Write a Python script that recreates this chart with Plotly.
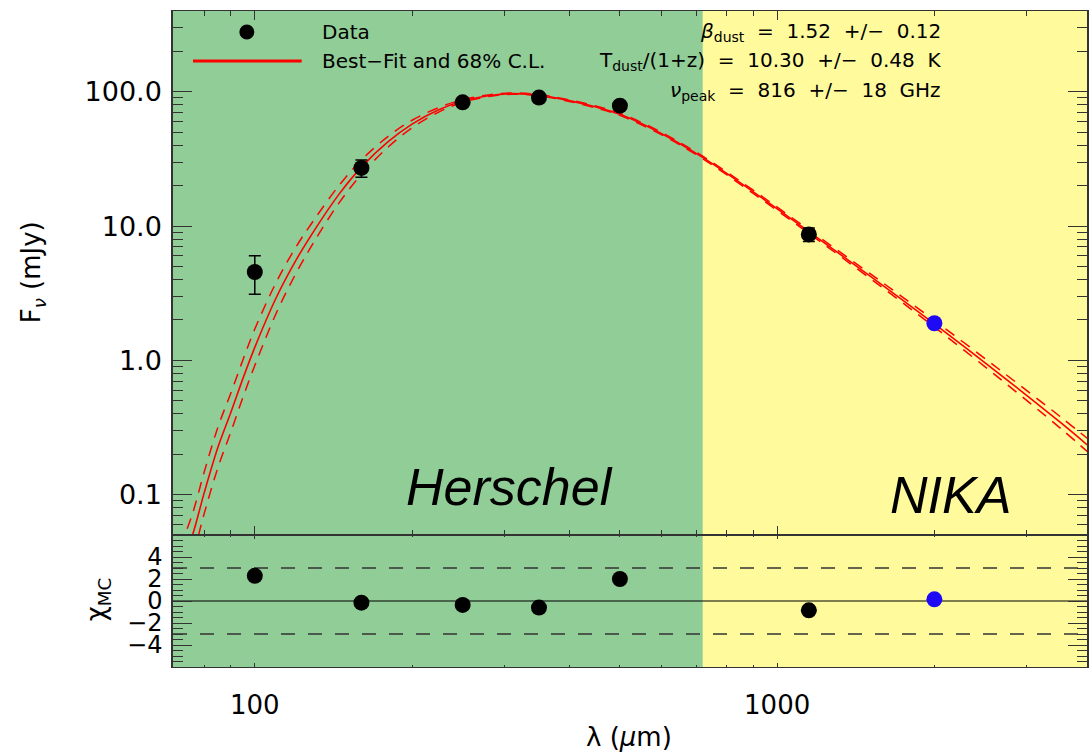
import math
import plotly.graph_objects as go
from plotly.subplots import make_subplots

# ---------------- data ----------------
wave_black = [100, 160, 250, 350, 500, 1150]
flux_black = [4.55, 27.1, 83.5, 90.6, 78.9, 8.67]
err_black = [1.45, 4.0, 5.0, 5.0, 5.0, 1.0]
chi_black = [2.29, -0.15, -0.36, -0.6, 2.0, -0.85]

wave_blue = [2000]
flux_blue = [1.89]
err_blue = [0.1]
chi_blue = [0.15]

model_wave = [72, 76, 80, 85, 90, 95, 100, 110, 120, 130, 145, 160, 180, 200, 225, 250,
              280, 310, 350, 400, 450, 500, 600, 720, 900, 1150, 1500, 2000, 2700, 3500, 4000]
model_best = [0.0284, 0.05, 0.103, 0.225, 0.41, 0.74, 1.25, 2.95, 5.6, 9.3, 17.3, 27.5, 42.5, 57.5,
              73.5, 85.5, 93.5, 97.0, 94.5, 86, 77, 68, 49, 32.5, 18, 9.1, 4.3, 1.87, 0.76, 0.34, 0.22]
model_upper = [0.041, 0.0723, 0.147, 0.318, 0.572, 1.02, 1.71, 3.84, 7.02, 11.2, 20.1, 31.1, 46.6, 61.4,
               76.4, 87.5, 94.8, 98.1, 95.6, 87.2, 78.3, 69.3, 50.0, 33.2, 18.5, 9.38, 4.48, 1.98, 0.82,
               0.375, 0.247]
model_lower = [0.0197, 0.0346, 0.0721, 0.159, 0.294, 0.536, 0.916, 2.26, 4.47, 7.70, 14.9, 24.3, 38.8,
               53.9, 70.7, 83.6, 92.2, 95.9, 93.4, 84.8, 75.8, 66.8, 48.0, 31.8, 17.5, 8.83, 4.13, 1.77,
               0.704, 0.308, 0.196]

chi_levels = [0, 3, -3]

y_ticks = [0.1, 1, 10, 100]
y_ticktext = ["0.1", "1.0", "10.0", "100.0"]
x_ticks = [100, 1000]
x_ticktext = ["100", "1000"]
chi_ticks = [-4, -2, 0, 2, 4]
chi_ticktext = ["\u22124", "\u22122", "0", "2", "4"]

# ---------------- figure ----------------
GREEN = "rgb(145,205,151)"
YELLOW = "rgb(255,251,157)"
AXC = "#333333"
FONT = "DejaVu Sans"
BLUE = "rgb(30,10,245)"

fig = make_subplots(rows=2, cols=1, shared_xaxes=True, vertical_spacing=0,
                    row_heights=[0.7988, 0.2012])

dash = "11px,8px"
fig.add_trace(go.Scatter(x=model_wave, y=model_upper, mode="lines", line_shape="spline",
                         line=dict(color="red", width=1.5, dash=dash), showlegend=False), row=1, col=1)
fig.add_trace(go.Scatter(x=model_wave, y=model_lower, mode="lines", line_shape="spline",
                         line=dict(color="red", width=1.5, dash=dash), showlegend=False), row=1, col=1)
fig.add_trace(go.Scatter(x=model_wave, y=model_best, mode="lines", line_shape="spline",
                         line=dict(color="red", width=1.6), showlegend=False), row=1, col=1)

fig.add_trace(go.Scatter(x=wave_black, y=flux_black, mode="markers",
                         marker=dict(color="black", size=16),
                         error_y=dict(type="data", array=err_black, color="black", thickness=1.5, width=6),
                         showlegend=False), row=1, col=1)
fig.add_trace(go.Scatter(x=wave_blue, y=flux_blue, mode="markers",
                         marker=dict(color=BLUE, size=16),
                         error_y=dict(type="data", array=err_blue, color="black", thickness=1.5, width=6),
                         showlegend=False), row=1, col=1)

fig.add_trace(go.Scatter(x=wave_black, y=chi_black, mode="markers",
                         marker=dict(color="black", size=16), showlegend=False), row=2, col=1)
fig.add_trace(go.Scatter(x=wave_blue, y=chi_blue, mode="markers",
                         marker=dict(color=BLUE, size=16), showlegend=False), row=2, col=1)

# backgrounds
split = (704 - 173) / 916
for xr, yr in [("x domain", "y domain"), ("x2 domain", "y2 domain")]:
    fig.add_shape(type="rect", xref=xr, yref=yr, x0=0, x1=split, y0=0, y1=1,
                  fillcolor=GREEN, line=dict(width=0), layer="below")
    fig.add_shape(type="rect", xref=xr, yref=yr, x0=split, x1=1, y0=0, y1=1,
                  fillcolor=YELLOW, line=dict(width=0), layer="below")

# residual reference levels
for lv in chi_levels:
    if lv == 0:
        ln = dict(color="black", width=1.2)
    else:
        ln = dict(color="#333333", width=1.3, dash="14px,13px")
    fig.add_shape(type="line", xref="x2 domain", yref="y2", x0=0, x1=1, y0=lv, y1=lv,
                  line=ln, layer="below")

# axes
xmin, xmax = 1.8434, 3.5932
minor_x = [v * 10 ** e for e in range(1, 4) for v in range(2, 10)]
minor_y = [v * 10 ** e for e in range(-2, 3) for v in range(2, 10)]

common_x = dict(type="log", range=[xmin, xmax], showline=True, linecolor=AXC, linewidth=1.2,
                mirror="allticks", ticks="inside", tickcolor=AXC, tickwidth=1.3,
                showgrid=False, zeroline=False, tickvals=x_ticks, ticktext=x_ticktext,
                tickfont=dict(family=FONT, size=26, color="black"))
fig.update_xaxes(**common_x)
fig.update_xaxes(row=1, col=1, showticklabels=False, ticklen=9,
                 minor=dict(tickmode="array", tickvals=minor_x, ticks="inside", ticklen=5,
                            tickcolor=AXC, tickwidth=1.2, showgrid=False))
fig.update_xaxes(row=2, col=1, ticklen=4, ticklabelstandoff=15,
                 minor=dict(tickmode="array", tickvals=minor_x, ticks="inside", ticklen=2,
                            tickcolor=AXC, tickwidth=1.2, showgrid=False))

fig.update_yaxes(row=1, col=1, type="log", range=[math.log10(0.05), math.log10(400)],
                 showline=True, linecolor=AXC, linewidth=1.5, mirror="allticks",
                 ticks="inside", ticklen=19, tickcolor=AXC, tickwidth=1.3,
                 tickvals=y_ticks, ticktext=y_ticktext, showgrid=False, zeroline=False,
                 tickfont=dict(family=FONT, size=27, color="black"), ticklabelstandoff=4,
                 minor=dict(tickmode="array", tickvals=minor_y, ticks="inside", ticklen=10,
                            tickcolor=AXC, tickwidth=1.2, showgrid=False))
fig.update_yaxes(row=2, col=1, range=[-6, 6], showline=True, linecolor=AXC, linewidth=1.5,
                 mirror="allticks", ticks="inside", ticklen=19, tickcolor=AXC, tickwidth=1.3,
                 tickvals=chi_ticks, ticktext=chi_ticktext, showgrid=False, zeroline=False,
                 tickfont=dict(family=FONT, size=24, color="black"), ticklabelstandoff=4,
                 minor=dict(tickmode="linear", dtick=0.5, ticks="inside", ticklen=10,
                            tickcolor=AXC, tickwidth=1.2, showgrid=False))


def px(x):
    return (x - 173) / 916


def py(y):
    return (667 - y) / 656


ann = []
txt = dict(family=FONT, size=20, color="black")
ann.append(dict(text="Data", x=px(320), y=py(32), xanchor="left", yanchor="middle", font=txt))
ann.append(dict(text="Best\u2212Fit and 68% C.L.", x=px(320), y=py(61), xanchor="left",
                yanchor="middle", font=txt))
ann.append(dict(text="<i>\u03b2</i><sub>dust</sub>  =  1.52  +/\u2212  0.12", x=px(945), y=py(32),
                xanchor="right", yanchor="middle", font=txt))
ann.append(dict(text="T<sub>dust</sub>/(1+z)  =  10.30  +/\u2212  0.48  K", x=px(945), y=py(61),
                xanchor="right", yanchor="middle", font=txt))
ann.append(dict(text="<i>\u03bd</i><sub>peak</sub>  =  816  +/\u2212  18  GHz", x=px(945), y=py(91),
                xanchor="right", yanchor="middle", font=txt))
ann.append(dict(text="<i>Herschel</i>", x=px(510), y=py(487), xanchor="center", yanchor="middle",
                font=dict(family="Liberation Sans", size=52, color="black")))
ann.append(dict(text="<i>NIKA</i>", x=px(952), y=py(495), xanchor="center", yanchor="middle",
                font=dict(family="Liberation Sans", size=52, color="black")))
ann.append(dict(text="\u03bb (<i>\u03bc</i>m)", x=px(630), y=py(737), xanchor="center",
                yanchor="middle", font=dict(family=FONT, size=26, color="black")))
ann.append(dict(text="F<sub><i>\u03bd</i></sub> (mJy)", x=px(32), y=py(272), xanchor="center",
                yanchor="middle", textangle=-90, font=dict(family=FONT, size=26, color="black")))
ann.append(dict(text="\u03c7<sub>MC</sub>", x=px(97), y=py(600), xanchor="center",
                yanchor="middle", textangle=-90, font=dict(family=FONT, size=26, color="black")))
for a in ann:
    a.update(xref="paper", yref="paper", showarrow=False)
fig.update_layout(annotations=ann)

# legend symbols
fig.add_shape(type="circle", xref="paper", yref="paper", xsizemode="pixel", ysizemode="pixel",
              xanchor=px(247), yanchor=py(32), x0=-7.5, x1=7.5, y0=-7.5, y1=7.5,
              fillcolor="black", line=dict(width=0), layer="above")
fig.add_shape(type="line", xref="paper", yref="paper", x0=px(193), x1=px(302), y0=py(61), y1=py(61),
              line=dict(color="red", width=3), layer="above")

fig.update_layout(width=1089, height=752, margin=dict(l=173, r=0, t=11, b=85),
                  plot_bgcolor=YELLOW, paper_bgcolor="white", showlegend=False)

fig.write_html("out.html")
